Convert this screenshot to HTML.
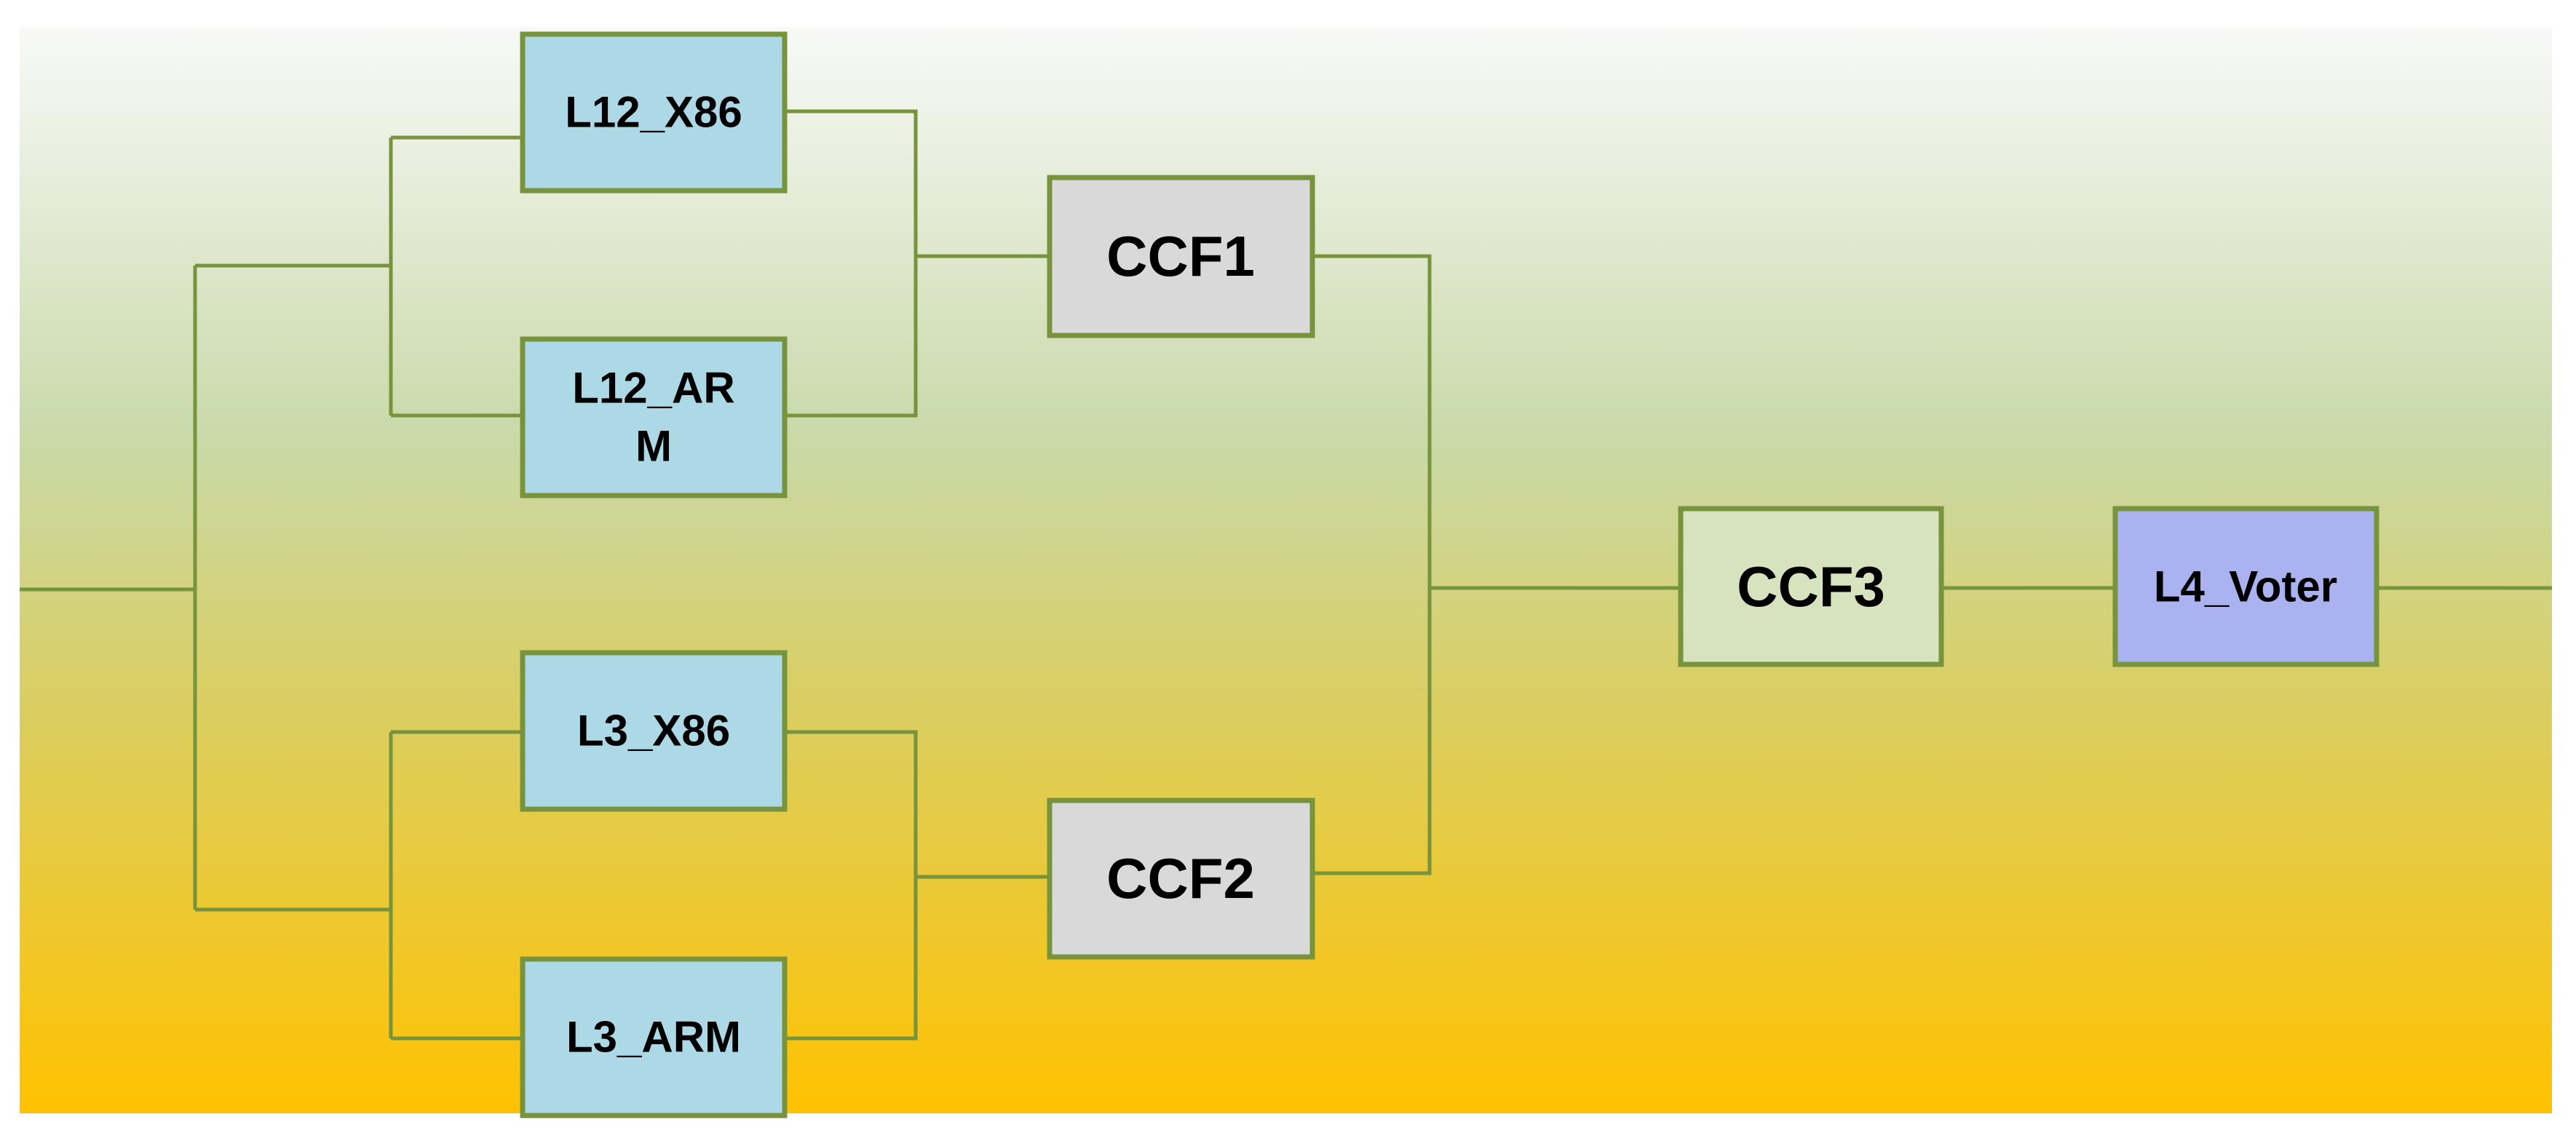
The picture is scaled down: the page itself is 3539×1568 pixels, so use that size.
<!DOCTYPE html>
<html><head><meta charset="utf-8"><style>
html,body{margin:0;padding:0;background:#fff;}
svg{display:block}
text{font-family:"Liberation Sans",sans-serif;font-weight:bold;fill:#000;text-anchor:middle;dominant-baseline:central}
</style></head><body>
<svg width="3539" height="1568" viewBox="0 0 3539 1568" xmlns="http://www.w3.org/2000/svg">
<defs><linearGradient id="g" x1="0" y1="0" x2="0" y2="1">
<stop offset="0" stop-color="#f8f9f8"/>
<stop offset="0.38" stop-color="#c9d9a8"/>
<stop offset="0.6" stop-color="#d8cf68"/>
<stop offset="1" stop-color="#ffc200"/>
</linearGradient></defs>
<rect x="27" y="37" width="3479" height="1493" fill="url(#g)"/>
<g stroke="#77933c" stroke-width="5" fill="none">
<path d="M27 810 H268 M268 365 V1250 M268 365 H537 M268 1250 H537"/>
<path d="M537 189 V571 M537 189 H718 M537 571 H718"/>
<path d="M1078 153 H1258 V571 H1078 M1258 352 H1442"/>
<path d="M537 1006 V1427 M537 1006 H718 M537 1427 H718"/>
<path d="M1078 1006 H1258 V1427 H1078 M1258 1205 H1442"/>
<path d="M1803 352 H1964 V1200 H1803 M1964 808 H2309 M2667 808 H2906 M3265 808 H3506"/>
</g>
<g stroke="#77933c" stroke-width="7">
<rect x="718" y="47" width="360" height="215" fill="#add8e6"/>
<rect x="718" y="466" width="360" height="215" fill="#add8e6"/>
<rect x="718" y="897" width="360" height="215" fill="#add8e6"/>
<rect x="718" y="1318" width="360" height="215" fill="#add8e6"/>
<rect x="1442" y="244" width="361" height="217" fill="#d9d9d9"/>
<rect x="1442" y="1100" width="361" height="215" fill="#d9d9d9"/>
<rect x="2309" y="699" width="358" height="214" fill="#d7e3bf"/>
<rect x="2906" y="699" width="359" height="214" fill="#abb2f0"/>
</g>
<text x="898" y="154" font-size="60">L12_X86</text>
<text x="898" y="533" font-size="60">L12_AR</text>
<text x="898" y="613" font-size="60">M</text>
<text x="898" y="1004" font-size="60">L3_X86</text>
<text x="898" y="1425" font-size="60">L3_ARM</text>
<text x="1622" y="352" font-size="78">CCF1</text>
<text x="1622" y="1207" font-size="78">CCF2</text>
<text x="2488" y="806" font-size="78">CCF3</text>
<text x="3085" y="806" font-size="60">L4_Voter</text>
</svg>
</body></html>
